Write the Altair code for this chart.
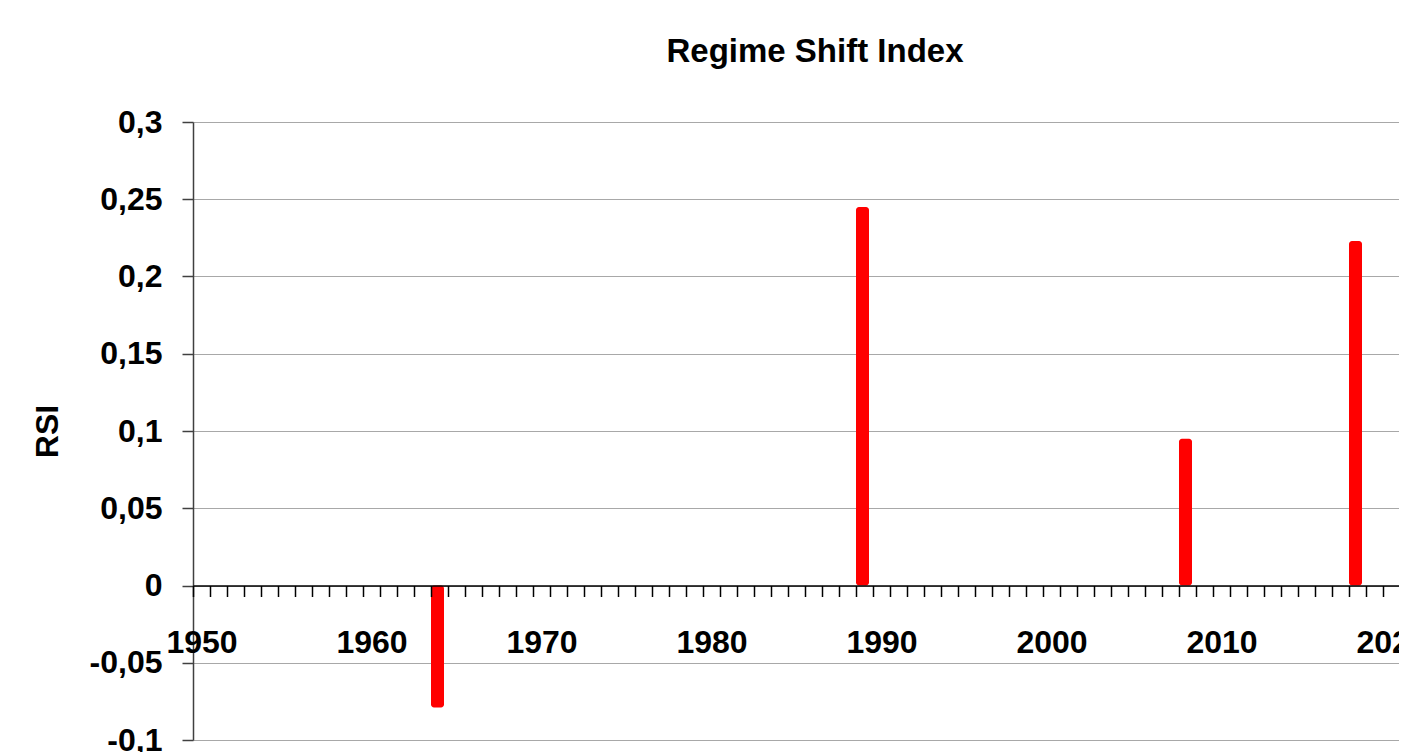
import altair as alt
import pandas as pd

# ---- data ----
years = [1964, 1989, 2008, 2018]
rsi = [-0.079, 0.245, 0.095, 0.223]
y_ticks = [-0.1, -0.05, 0, 0.05, 0.1, 0.15, 0.2, 0.25, 0.3]
y_domain = [-0.1, 0.3]
first_year = 1950
chart_title = "Regime Shift Index"
y_title = "RSI"

df = pd.DataFrame({"year": years, "rsi": rsi})

FONT = "Liberation Sans"
W, H = 1206, 618
PX_PER_YEAR = 17.0
x_domain = [first_year - 0.5, first_year - 0.5 + W / PX_PER_YEAR]
boundaries = [first_year - 0.5 + k for k in range(0, int(W / PX_PER_YEAR) + 1)]
zero_offset = -(0 - y_domain[0]) / (y_domain[1] - y_domain[0]) * H

bars = alt.Chart(df).mark_bar(color="#ff0000", width=13, cornerRadius=3, xOffset=-2).encode(
    x=alt.X(
        "year:Q",
        title="",
        scale=alt.Scale(domain=x_domain, nice=False, zero=False, padding=0),
        axis=alt.Axis(
            values=boundaries,
            offset=zero_offset,
            labelExpr="(datum.value + 0.5) % 10 == 0 ? toString(datum.value + 0.5) : ''",
            labelOffset=PX_PER_YEAR / 2,
            labelOverlap=False,
            labelFlush=False,
            labelBound=False,
            labelFont=FONT,
            labelFontSize=32,
            labelFontWeight="bold",
            labelColor="#000000",
            labelPadding=31,
            tickSize=11,
            tickWidth=1.5,
            tickColor="#000000",
            domainColor="#000000",
            domainWidth=1.5,
            grid=False,
            zindex=1,
        ),
    ),
    y=alt.Y(
        "rsi:Q",
        title=y_title,
        scale=alt.Scale(domain=y_domain, nice=False, zero=False),
        axis=alt.Axis(
            values=y_ticks,
            labelExpr="replace(toString(datum.value), '.', ',')",
            labelFont=FONT,
            labelFontSize=32,
            labelFontWeight="bold",
            labelColor="#000000",
            labelPadding=20,
            tickSize=11,
            tickWidth=1.5,
            tickColor="#404040",
            domainColor="#404040",
            domainWidth=1.5,
            grid=True,
            gridColor="#a8a8a8",
            gridWidth=1,
            titleFont=FONT,
            titleFontSize=32,
            titleFontWeight="bold",
            titleColor="#000000",
            titlePadding=25,
        ),
    ),
    y2=alt.datum(0),
)

chart = bars.properties(
    width=W,
    height=H,
    title=alt.TitleParams(
        text=chart_title,
        font=FONT,
        fontSize=33,
        fontWeight="bold",
        color="#000000",
        anchor="middle",
        frame="group",
        dx=19,
        offset=37,
    ),
    autosize=alt.AutoSizeParams(type="none"),
    padding={"left": 185, "top": 114, "right": 0, "bottom": 12},
).configure_view(stroke=None).configure(background="#ffffff")

chart.save("out.html", embed_options={"renderer": "svg", "actions": False})
